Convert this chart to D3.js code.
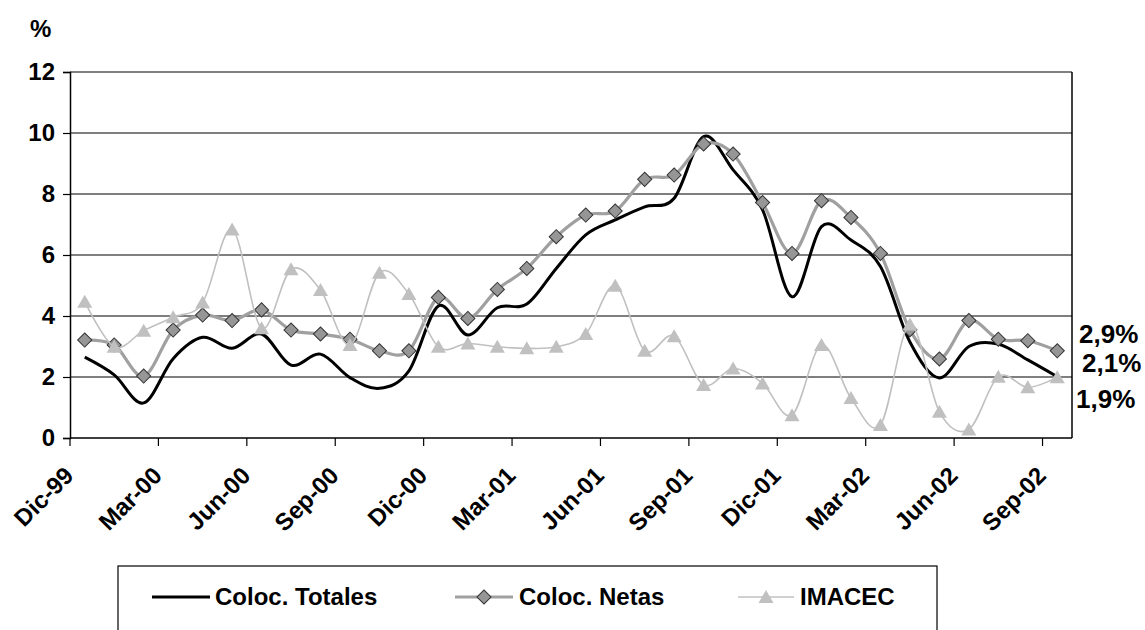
<!DOCTYPE html>
<html><head><meta charset="utf-8">
<script src="https://cdn.jsdelivr.net/npm/d3@7"></script>
<style>
body{margin:0;background:#fff}
svg{display:block}
text{font-family:"Liberation Sans",Arial,sans-serif;font-weight:bold;fill:#000}
</style>
</head><body>
<svg id="c" width="1145" height="630"></svg>
<script>
// ---- data ----
const months = ["Dic-99","Ene-00","Feb-00","Mar-00","Abr-00","May-00","Jun-00","Jul-00","Ago-00","Sep-00","Oct-00","Nov-00",
  "Dic-00","Ene-01","Feb-01","Mar-01","Abr-01","May-01","Jun-01","Jul-01","Ago-01","Sep-01","Oct-01","Nov-01",
  "Dic-01","Ene-02","Feb-02","Mar-02","Abr-02","May-02","Jun-02","Jul-02","Ago-02","Sep-02"];
const colocTotales = [2.65,2.07,1.15,2.6,3.3,2.94,3.41,2.39,2.75,1.98,1.63,2.2,
  4.33,3.38,4.27,4.39,5.56,6.66,7.15,7.58,7.86,9.88,8.79,7.48,
  4.63,6.93,6.49,5.62,3.15,1.97,3.0,3.08,2.56,2.01];
const colocNetas = [3.21,3.05,2.03,3.54,4.03,3.85,4.2,3.54,3.41,3.24,2.86,2.86,
  4.61,3.92,4.87,5.56,6.6,7.31,7.44,8.48,8.62,9.64,9.31,7.72,
  6.05,7.78,7.23,6.05,3.55,2.59,3.85,3.24,3.19,2.86];
const imacec = [4.47,2.99,3.52,3.96,4.44,6.84,3.6,5.53,4.85,3.05,5.42,4.72,
  2.99,3.1,2.99,2.94,2.99,3.41,4.99,2.86,3.34,1.74,2.28,1.79,
  0.75,3.05,1.31,0.43,3.72,0.86,0.28,2.01,1.66,1.99];
const yTicks = [0,2,4,6,8,10,12];
const xTickLabels = months.filter((d,i)=>i%3===0);
const endLabels = ["2,9%","2,1%","1,9%"];
const seriesNames = ["Coloc. Totales","Coloc. Netas","IMACEC"];

// ---- layout ----
const svg = d3.select("#c");
const L = 70, R = 1072, T = 72, B = 438;
const x = d3.scaleBand().domain(months).range([L, R]);
const y = d3.scaleLinear().domain([0, 12]).range([B, T]);
const cx = m => x(m) + x.bandwidth() / 2;

// gridlines
svg.append("g").selectAll("line").data(yTicks.filter(v => v > 0)).join("line")
  .attr("x1", L).attr("x2", R).attr("y1", d => y(d)).attr("y2", d => y(d))
  .attr("stroke", "#000").attr("stroke-width", 1.2);
// right border
svg.append("line").attr("x1", R).attr("x2", R).attr("y1", T).attr("y2", B)
  .attr("stroke", "#000").attr("stroke-width", 1.5);

// y axis
const yAxis = svg.append("g").attr("transform", `translate(${L},0)`)
  .call(d3.axisLeft(y).tickValues(yTicks).tickSize(7).tickPadding(8).tickFormat(d3.format("d")));
yAxis.select(".domain").attr("stroke", "#000").attr("stroke-width", 1.5);
yAxis.selectAll(".tick line").attr("stroke", "#000").attr("stroke-width", 1.2);
yAxis.selectAll("text").style("font-size", "24px").attr("fill", "#000");

// x axis
svg.append("line").attr("x1", L).attr("x2", R).attr("y1", B).attr("y2", B)
  .attr("stroke", "#000").attr("stroke-width", 1.5);
const xg = svg.append("g");
xg.selectAll("line").data(xTickLabels).join("line")
  .attr("x1", d => x(d)).attr("x2", d => x(d)).attr("y1", B).attr("y2", B + 8)
  .attr("stroke", "#000").attr("stroke-width", 1.2);
xg.selectAll("text").data(xTickLabels).join("text")
  .attr("transform", d => `translate(${x(d) + 5},477) rotate(-45)`)
  .attr("text-anchor", "end").style("font-size", "24px").text(d => d);

// "%" label
svg.append("text").attr("x", 30).attr("y", 37).style("font-size", "24px").text("%");

// lines
const line = d3.line().x((d, i) => cx(months[i])).y(d => y(d)).curve(d3.curveCatmullRom.alpha(0));

svg.append("path").datum(colocTotales).attr("d", line)
  .attr("fill", "none").attr("stroke", "#000").attr("stroke-width", 3);

svg.append("path").datum(colocNetas).attr("d", line)
  .attr("fill", "none").attr("stroke", "#a0a0a0").attr("stroke-width", 3.2);
const diamond = d3.symbol(d3.symbolSquare, 100)();
svg.append("g").selectAll("path").data(colocNetas).join("path")
  .attr("d", diamond)
  .attr("transform", (d, i) => `translate(${cx(months[i])},${y(d)}) rotate(45)`)
  .attr("fill", "#969696").attr("stroke", "#333").attr("stroke-width", 1);

svg.append("path").datum(imacec).attr("d", line)
  .attr("fill", "none").attr("stroke", "#c0c0c0").attr("stroke-width", 1.6);
const tri = "M0,-7L7.5,6L-7.5,6Z";
svg.append("g").selectAll("path").data(imacec).join("path")
  .attr("d", tri)
  .attr("transform", (d, i) => `translate(${cx(months[i])},${y(d)})`)
  .attr("fill", "#c0c0c0");

// end labels
const endPos = [[1079, 343], [1082, 372], [1076, 408]];
svg.append("g").selectAll("text").data(endLabels).join("text")
  .attr("x", (d, i) => endPos[i][0]).attr("y", (d, i) => endPos[i][1])
  .style("font-size", "26px").text(d => d);

// legend
const lg = svg.append("g");
lg.append("rect").attr("x", 118).attr("y", 566).attr("width", 819).attr("height", 90)
  .attr("fill", "#fff").attr("stroke", "#000").attr("stroke-width", 1.2);
const ly = 597;
const items = [
  {x0: 152, x1: 210, tx: 215, stroke: "#000", w: 3, marker: null},
  {x0: 455, x1: 513, tx: 519, stroke: "#a0a0a0", w: 3.2, marker: "d"},
  {x0: 738, x1: 794, tx: 800, stroke: "#c0c0c0", w: 1.6, marker: "t"}
];
items.forEach((it, i) => {
  lg.append("line").attr("x1", it.x0).attr("x2", it.x1).attr("y1", ly).attr("y2", ly)
    .attr("stroke", it.stroke).attr("stroke-width", it.w);
  const mx = (it.x0 + it.x1) / 2;
  if (it.marker === "d") {
    lg.append("path").attr("d", diamond).attr("transform", `translate(${mx},${ly}) rotate(45)`)
      .attr("fill", "#969696").attr("stroke", "#333").attr("stroke-width", 1);
  } else if (it.marker === "t") {
    lg.append("path").attr("d", tri).attr("transform", `translate(${mx},${ly})`).attr("fill", "#c0c0c0");
  }
  lg.append("text").attr("x", it.tx).attr("y", ly + 8).style("font-size", "24px").text(seriesNames[i]);
});
</script>
</body></html>
